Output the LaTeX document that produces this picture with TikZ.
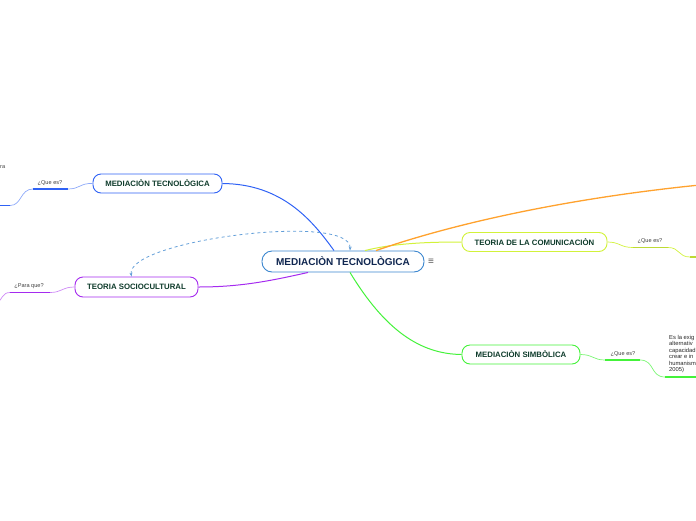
\documentclass[tikz,border=0pt]{standalone}
\usepackage{fontspec}
\setmainfont{Liberation Sans}
\usetikzlibrary{arrows.meta,positioning,calc}
\definecolor{mcentral}{HTML}{3B86CF}
\definecolor{mnavy}{HTML}{0F2650}
\definecolor{mtext}{HTML}{0E3B2B}
\definecolor{mblue}{HTML}{2F62F5}
\definecolor{mpurple}{HTML}{A52BEF}
\definecolor{myellow}{HTML}{D2F23A}
\definecolor{morange}{HTML}{FFA22E}
\definecolor{mgreen}{HTML}{44F23A}

\begin{document}
\begin{tikzpicture}[x=1pt,y=-1pt,
  topic/.style={draw, fill=white, rounded corners=8pt, line width=0.9pt, text=mtext,
    font=\bfseries\fontsize{7.8}{9}\selectfont, minimum height=19pt, inner sep=0pt},
  lbl/.style={font=\fontsize{5.6}{6}\selectfont, text=black!75, inner sep=0pt}]
 \useasboundingbox (0,0) rectangle (696,520);
 \clip (0,0) rectangle (696,520);
 % central topic
 \node[draw=mcentral, fill=white, rounded corners=10pt, line width=0.9pt, text=mnavy,
   font=\bfseries\fontsize{10}{12}\selectfont, minimum width=162pt, minimum height=21pt,
   inner sep=0pt] (c) at (343,261.5) {MEDIACIÒN TECNOLÒGICA};
 \node[text=black!65, font=\fontsize{10}{10}\selectfont] (menu) at (431,262) {≡};
 % main branches
 \node[topic, draw=mblue, minimum width=129pt] (mt) at (157.5,183.5) {MEDIACIÒN TECNOLÒGICA};
 \node[topic, draw=mpurple, minimum width=123pt, minimum height=20pt] (sc) at (136.5,287) {TEORIA SOCIOCULTURAL};
 \node[topic, draw=myellow, minimum width=145pt] (tc) at (534.5,242) {TEORIA DE LA COMUNICACIÒN};
 \node[topic, draw=mgreen, minimum width=118pt] (ms) at (521,354.5) {MEDIACIÒN SIMBÒLICA};
 \draw[mblue, line width=1pt] ($(c.north)+(-9,0)$) .. controls (312,220) and (282,184) .. (mt.east);
 \draw[mpurple, line width=1pt] ($(c.south)+(-35,0)$) .. controls (270,281) and (240,287) .. (sc.east);
 \draw[myellow, line width=1pt] ($(c.north)+(22,0)$) .. controls (395,243) and (430,242) .. (tc.west);
 \draw[mgreen, line width=1pt] ($(c.south)+(7,0)$) .. controls (385,330) and (420,354) .. (ms.west);
 \coordinate (oend) at (700,185);
 \draw[morange, line width=1.3pt] ($(c.north)+(33,0)$) .. controls (470,218) and (590,196) .. (oend);
 \draw[mcentral!80, dashed, line width=0.8pt, {Stealth[length=4pt]}-{Stealth[length=4pt]}]
   ($(sc.north)+(-5,0)$) .. controls (126,240) and (352,212) .. ($(c.north)+(7,0)$);
 % sub branches
 \node[lbl] (q1) at (50,183) {¿Que es?};
 \coordinate (q1l) at (33,189); \coordinate (q1r) at (68,189); \coordinate (q1e) at (10,205.5);
 \draw[mblue!55, line width=0.7pt] (mt.west) .. controls (80,183) and (80,189) .. (q1r);
 \draw[mblue!55, line width=0.7pt] (q1l) .. controls (20,189) and (22,205.5) .. (q1e);
 \draw[mblue, line width=1.5pt] (q1l) -- (q1r);
 \draw[mblue, line width=1.5pt] (q1e) -- ++(-12,0);
 \node[lbl, anchor=base west] (frag) at (0,168) {ra};

 \node[lbl] (q2) at (29,286) {¿Para que?};
 \coordinate (q2l) at (10,292.5); \coordinate (q2r) at (50,292.5); \coordinate (q2e) at (-2,302);
 \draw[mpurple!55, line width=0.7pt] (sc.west) .. controls (62,287) and (62,292.5) .. (q2r);
 \draw[mpurple!55, line width=0.7pt] (q2l) .. controls (2,292.5) and (2,300) .. (q2e);
 \draw[mpurple, line width=1.5pt] (q2l) -- (q2r);

 \node[lbl] (q3) at (650,241) {¿Que es?};
 \coordinate (q3l) at (633,247.5); \coordinate (q3r) at (668,247.5); \coordinate (q3e) at (690,257);
 \draw[myellow, line width=0.7pt] (tc.east) .. controls (620,242) and (620,247.5) .. (q3l);
 \draw[myellow, line width=0.7pt] (q3r) .. controls (680,247.5) and (678,257) .. (q3e);
 \draw[myellow!90!black, line width=1.5pt] (q3l) -- (q3r);
 \draw[myellow!90!black, line width=1.5pt] (q3e) -- ++(12,0);

 \node[lbl] (q4) at (623,354) {¿Que es?};
 \coordinate (q4l) at (605,360); \coordinate (q4r) at (640,360); \coordinate (q4e) at (665,377);
 \draw[mgreen!70, line width=0.7pt] (ms.east) .. controls (593,354.5) and (593,360) .. (q4l);
 \draw[mgreen!70, line width=0.7pt] (q4r) .. controls (655,360) and (650,377) .. (q4e);
 \draw[mgreen, line width=1.5pt] (q4l) -- (q4r);
 \draw[mgreen, line width=1.5pt] (q4e) -- ++(35,0);
 \node[lbl, anchor=north west, align=left, font=\fontsize{5.8}{6.4}\selectfont, text=black!85]
   (def) at (669,335) {Es la exig\\alternativ\\capacidad\\crear e in\\humanism\\2005)};
\end{tikzpicture}
\end{document}
